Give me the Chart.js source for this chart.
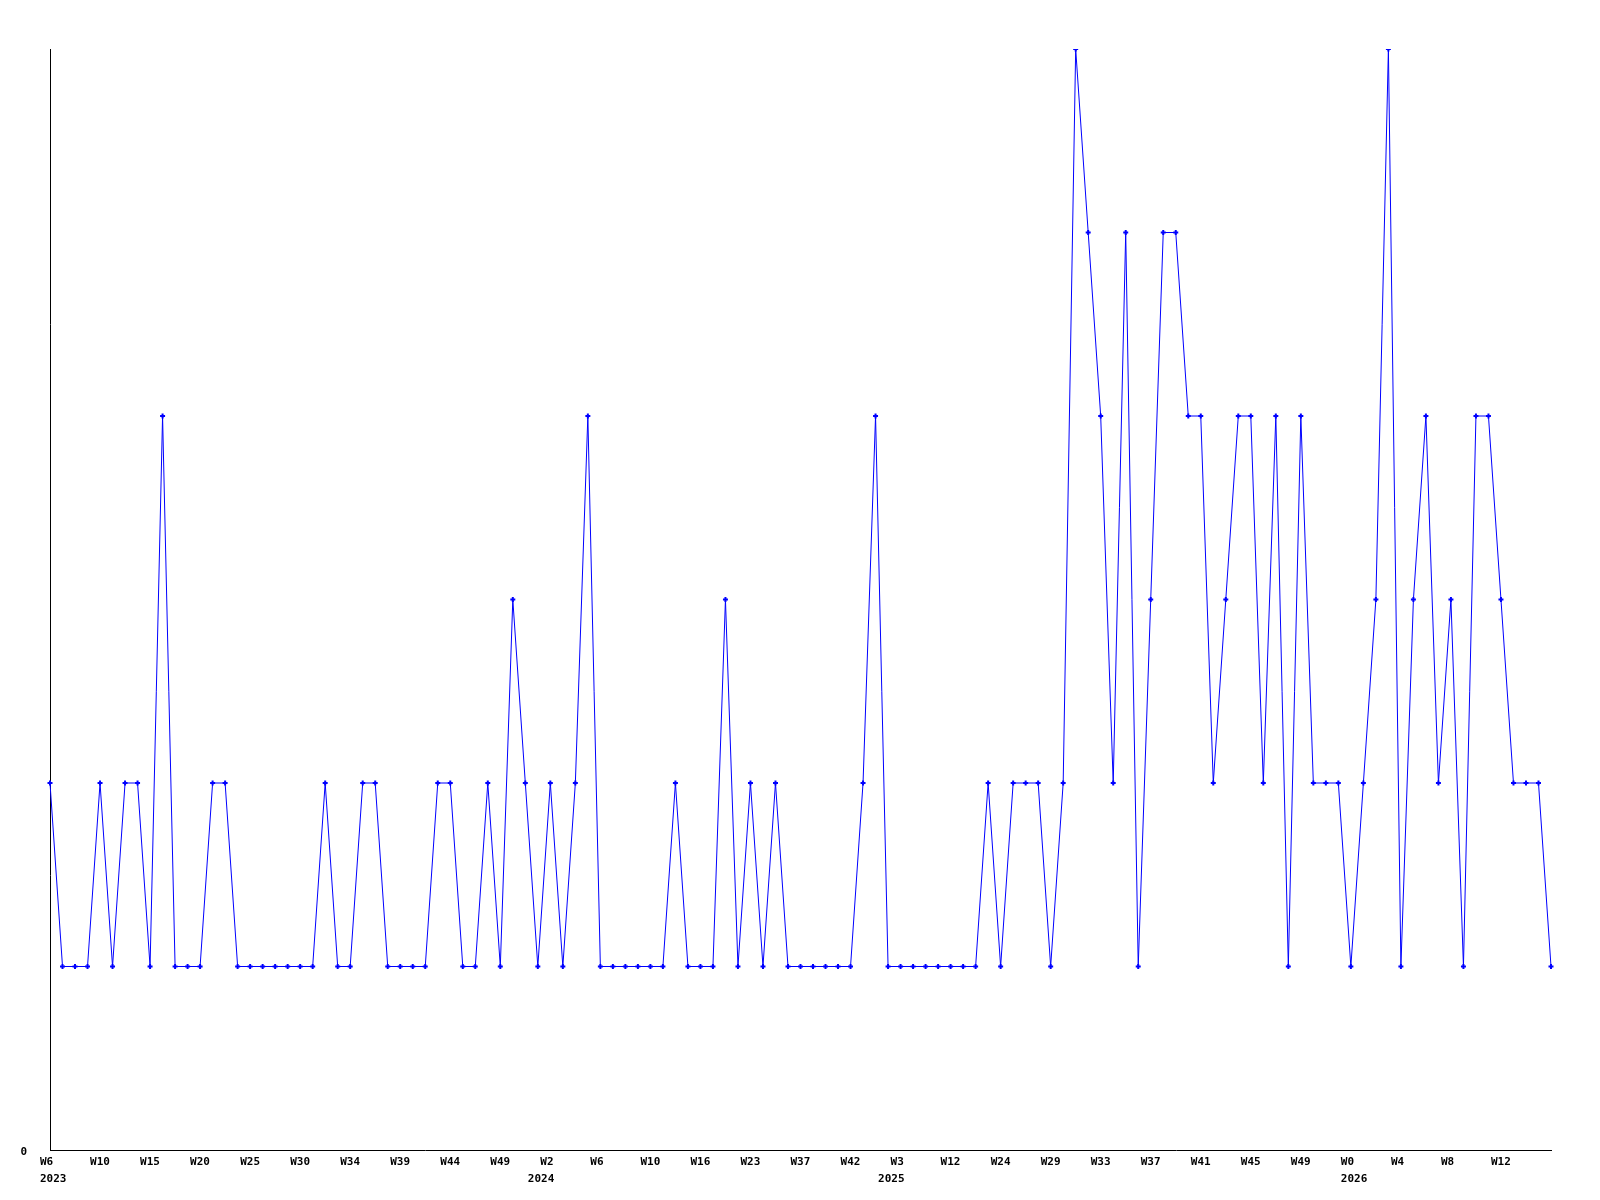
<!DOCTYPE html>
<html>
<head>
<meta charset="utf-8">
<script src="https://cdn.jsdelivr.net/npm/chart.js@4/dist/chart.umd.min.js"></script>
<style>
  html, body { margin: 0; padding: 0; background: #ffffff; }
  #wrap { width: 1600px; height: 1200px; }
</style>
</head>
<body>
<div id="wrap"><canvas id="c" width="1600" height="1200"></canvas></div>
<script>
// Weekly counts (one point per reported week)
const values = [
  2,1,1,1,2,1,2,2,1,4,
  1,1,1,2,2,1,1,1,1,1,
  1,1,2,1,1,2,2,1,1,1,
  1,2,2,1,1,2,1,3,2,1,
  2,1,2,4,1,1,1,1,1,1,
  2,1,1,1,3,1,2,1,2,1,
  1,1,1,1,1,2,4,1,1,1,
  1,1,1,1,1,2,1,2,2,2,
  1,2,6,5,4,2,5,1,3,5,
  5,4,4,2,3,4,4,2,4,1,
  4,2,2,2,1,2,3,6,1,3,
  4,2,3,1,4,4,3,2,2,2,
  1
];

// Week tick labels shown on the x axis (every 4th point)
const tickLabels = [
  'W6','W10','W15','W20','W25','W30','W34','W39','W44','W49',
  'W2','W6','W10','W16','W23','W37','W42','W3','W12','W24',
  'W29','W33','W37','W41','W45','W49','W0','W4','W8','W12'
];
const tickStep = 4;

// Year labels, placed at the first point of each year
const yearIndex = [0, 39, 67, 104];
const yearLabels = ['2023', '2024', '2025', '2026'];

const yMin = 0;
const yMax = 6;

// Category lists built from the label arrays
const categories = values.map((v, i) => {
  if (i % tickStep !== 0) return '';
  const k = i / tickStep;
  return k < tickLabels.length ? tickLabels[k] : '';
});
const yearCategories = values.map((v, i) => {
  const k = yearIndex.indexOf(i);
  return k >= 0 ? yearLabels[k] : '';
});

const FONT = {family: '"DejaVu Sans Mono", "Liberation Mono", monospace', size: 11, weight: 'bold', lineHeight: 16/11};

new Chart(document.getElementById('c'), {
  type: 'line',
  data: {
    labels: categories,
    datasets: [{
      data: values,
      xAxisID: 'x',
      yAxisID: 'y',
      borderColor: '#0000ff',
      backgroundColor: '#0000ff',
      borderWidth: 1,
      tension: 0,
      fill: false,
      pointStyle: 'cross',
      pointRadius: 2.5,
      pointBorderWidth: 2,
      pointBorderColor: '#0000ff',
      pointHoverRadius: 2.5
    }]
  },
  options: {
    responsive: false,
    animation: false,
    events: [],
    layout: { padding: { left: 0, top: 49, right: 49, bottom: 0 } },
    plugins: { legend: { display: false }, tooltip: { enabled: false }, title: { display: false } },
    scales: {
      x: {
        type: 'category',
        position: 'bottom',
        weight: 0,
        offset: false,
        grid: { display: false, drawTicks: false },
        border: { display: true, color: '#000000', width: 1 },
        ticks: {
          autoSkip: false,
          maxRotation: 0,
          minRotation: 0,
          align: 'start',
          labelOffset: -10,
          padding: 4,
          color: '#000000',
          font: FONT
        },
        afterFit: (s) => { s.height = 20; }
      },
      x2: {
        type: 'category',
        position: 'bottom',
        weight: 1,
        labels: yearCategories,
        offset: false,
        grid: { display: false, drawTicks: false },
        border: { display: false },
        ticks: {
          autoSkip: false,
          maxRotation: 0,
          minRotation: 0,
          align: 'start',
          labelOffset: -10,
          padding: 1,
          color: '#000000',
          font: FONT
        },
        afterFit: (s) => { s.height = 30; }
      },
      y: {
        min: yMin,
        max: yMax,
        grid: { display: false, drawTicks: false },
        border: { display: true, color: '#000000', width: 1 },
        ticks: {
          stepSize: 1,
          padding: 23,
          labelOffset: 2,
          color: '#000000',
          font: FONT,
          callback: (v) => (v === 0 ? '0' : '')
        },
        afterFit: (s) => { s.width = 50; }
      }
    }
  }
});
</script>
</body>
</html>
